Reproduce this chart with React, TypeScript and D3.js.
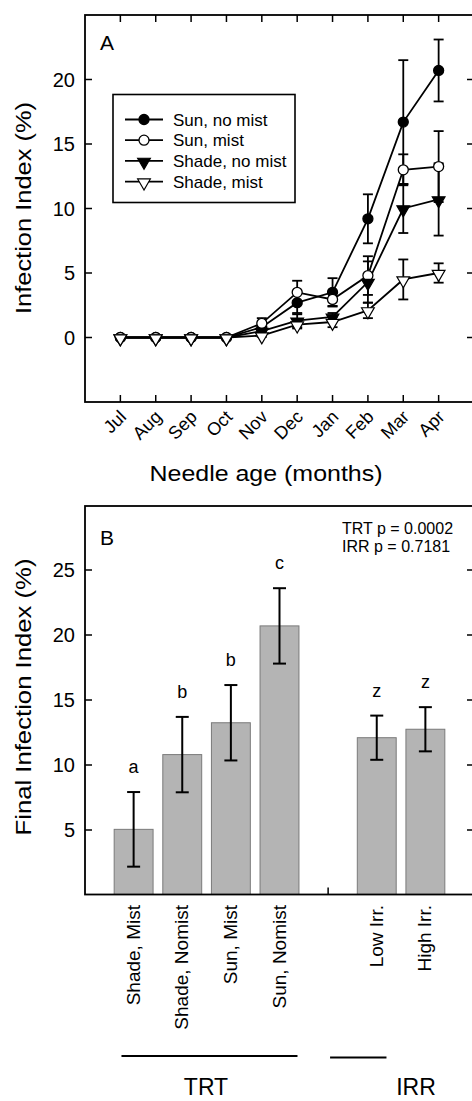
import React from 'react';
import * as d3 from 'd3';

// panel A: infection index by needle age
const months = ['Jul', 'Aug', 'Sep', 'Oct', 'Nov', 'Dec', 'Jan', 'Feb', 'Mar', 'Apr'];
const sunNoMist = [0, 0, 0, 0, 0.8, 2.7, 3.5, 9.2, 16.7, 20.7];
const sunNoMistErr = [0, 0, 0, 0, 0.3, 0.8, 1.1, 1.9, 4.8, 2.4];
const sunMist = [0, 0, 0, 0, 1.1, 3.5, 2.95, 4.8, 13.0, 13.25];
const sunMistErr = [0, 0, 0, 0, 0.4, 0.9, 0.5, 1.5, 1.2, 2.75];
const shadeNoMist = [0, 0, 0, 0, 0.5, 1.3, 1.6, 4.3, 10.0, 10.7];
const shadeNoMistErr = [0, 0, 0, 0, 0.2, 0.5, 0.3, 1.6, 1.9, 2.8];
const shadeMist = [0, 0, 0, 0, 0.15, 1.0, 1.2, 2.1, 4.5, 5.0];
const shadeMistErr = [0, 0, 0, 0, 0.1, 0.3, 0.4, 0.6, 1.55, 0.75];
const seriesNames = ['Sun, no mist', 'Sun, mist', 'Shade, no mist', 'Shade, mist'];
const yTicksA = [0, 5, 10, 15, 20];

// panel B: final infection index
const barLabels = ['Shade, Mist', 'Shade, Nomist', 'Sun, Mist', 'Sun, Nomist', '', 'Low Irr.', 'High Irr.'];
const barValues = [5.05, 10.8, 13.25, 20.7, null, 12.1, 12.75];
const barErrors = [2.87, 2.9, 2.9, 2.9, null, 1.7, 1.7];
const barLetters = ['a', 'b', 'b', 'c', '', 'z', 'z'];
const yTicksB = [5, 10, 15, 20, 25];
const statLines = ['TRT p = 0.0002', 'IRR p = 0.7181'];

const font = '"Liberation Sans", Arial, sans-serif';
const L = 85, R = 474;
const tickLen = 7;

function Marker({kind, x, y}: {kind: number, x: number, y: number}) {
    const filled = kind === 0 || kind === 2;
    if (kind < 2) {
        return <circle cx={x} cy={y} r={5} fill={filled ? '#000' : '#fff'} stroke="#000" strokeWidth={1.3} />;
    }
    const tri = d3.symbol(d3.symbolTriangle, 70)();
    return <path d={tri || ''} transform={`translate(${x},${y + 1}) rotate(180)`} fill={filled ? '#000' : '#fff'} stroke="#000" strokeWidth={1.2} />;
}

function PanelA() {
    const top = 15, bottom = 402;
    const x = d3.scaleLinear().domain([-1, 10]).range([L, R]);
    const y = d3.scaleLinear().domain([-5, 25]).range([bottom, top]);
    const series = [sunNoMist, sunMist, shadeNoMist, shadeMist];
    const errs = [sunNoMistErr, sunMistErr, shadeNoMistErr, shadeMistErr];
    const line = d3.line<number>().x((d, i) => x(i)).y(d => y(d));

    return (
        <g>
            {/* frame + ticks */}
            <rect x={L} y={top} width={R - L} height={bottom - top} fill="none" stroke="#000" strokeWidth={1.8} />
            {months.map((m, i) => (
                <g key={m}>
                    <line x1={x(i)} x2={x(i)} y1={bottom} y2={bottom - tickLen} stroke="#000" strokeWidth={1.5} />
                    <line x1={x(i)} x2={x(i)} y1={top} y2={top + tickLen} stroke="#000" strokeWidth={1.5} />
                    <text transform={`translate(${x(i) + 7},${bottom + 16}) rotate(-45)`} textAnchor="end"
                          fontSize={18} fontFamily={font}>{m}</text>
                </g>
            ))}
            {yTicksA.map(t => (
                <g key={t}>
                    <line x1={L} x2={L + tickLen} y1={y(t)} y2={y(t)} stroke="#000" strokeWidth={1.5} />
                    <line x1={R} x2={R - tickLen} y1={y(t)} y2={y(t)} stroke="#000" strokeWidth={1.5} />
                    <text x={L - 10} y={y(t) + 7} textAnchor="end" fontSize={20} fontFamily={font}>{t}</text>
                </g>
            ))}
            <text x={100} y={50} fontSize={21} fontFamily={font}>A</text>

            {/* error bars */}
            {series.map((s, k) => s.map((v, i) => errs[k][i] > 0 ? (
                <g key={`e${k}-${i}`} stroke="#000" strokeWidth={1.8}>
                    <line x1={x(i)} x2={x(i)} y1={y(v - errs[k][i])} y2={y(v + errs[k][i])} />
                    <line x1={x(i) - 5} x2={x(i) + 5} y1={y(v + errs[k][i])} y2={y(v + errs[k][i])} />
                    <line x1={x(i) - 5} x2={x(i) + 5} y1={y(v - errs[k][i])} y2={y(v - errs[k][i])} />
                </g>
            ) : null))}
            {series.map((s, k) => (
                <path key={`l${k}`} d={line(s) || ''} fill="none" stroke="#000" strokeWidth={1.8} />
            ))}
            {series.map((s, k) => s.map((v, i) => <Marker key={`m${k}-${i}`} kind={k} x={x(i)} y={y(v)} />))}

            {/* legend */}
            <rect x={113} y={94.5} width={182} height={108} fill="#fff" stroke="#000" strokeWidth={1.6} />
            {seriesNames.map((n, k) => {
                const ly = 119.5 + k * 20.7;
                return (
                    <g key={n}>
                        <line x1={125} x2={163} y1={ly} y2={ly} stroke="#000" strokeWidth={1.8} />
                        <Marker kind={k} x={144} y={ly} />
                        <text x={173} y={ly + 6} fontSize={17} fontFamily={font}>{n}</text>
                    </g>
                );
            })}

            <text x={266} y={481} textAnchor="middle" fontSize={22} fontFamily={font}
                  textLength={233} lengthAdjust="spacingAndGlyphs">Needle age (months)</text>
            <text transform={`translate(31,208) rotate(-90)`} textAnchor="middle" fontSize={22} fontFamily={font}
                  textLength={212} lengthAdjust="spacingAndGlyphs">Infection Index (%)</text>
        </g>
    );
}

function PanelB() {
    const top = 506, bottom = 894.5;
    const x = d3.scaleLinear().domain([-1, 7]).range([L, R]);
    const y = d3.scaleLinear().domain([0, 30]).range([895, 505]);
    const step = x(1) - x(0);
    const bw = step * 0.8;

    return (
        <g>
            {barValues.map((v, i) => v == null ? null : (
                <g key={i}>
                    <rect x={x(i) - bw / 2} y={y(v)} width={bw} height={bottom - y(v)} fill="#b4b4b4" stroke="#7a7a7a" strokeWidth={1} />
                    <g stroke="#000" strokeWidth={2}>
                        <line x1={x(i)} x2={x(i)} y1={y(v - (barErrors[i] as number))} y2={y(v + (barErrors[i] as number))} />
                        <line x1={x(i) - 6.5} x2={x(i) + 6.5} y1={y(v + (barErrors[i] as number))} y2={y(v + (barErrors[i] as number))} />
                        <line x1={x(i) - 6.5} x2={x(i) + 6.5} y1={y(v - (barErrors[i] as number))} y2={y(v - (barErrors[i] as number))} />
                    </g>
                    <text x={x(i)} y={y(v + (barErrors[i] as number)) - 19} textAnchor="middle" fontSize={18} fontFamily={font}>{barLetters[i]}</text>
                </g>
            ))}
            <rect x={L} y={top} width={R - L} height={bottom - top} fill="none" stroke="#000" strokeWidth={1.8} />
            <line x1={x(4)} x2={x(4)} y1={bottom} y2={bottom - tickLen} stroke="#000" strokeWidth={1.5} />
            {yTicksB.map(t => (
                <g key={t}>
                    <line x1={L} x2={L + tickLen} y1={y(t)} y2={y(t)} stroke="#000" strokeWidth={1.5} />
                    <line x1={R} x2={R - tickLen} y1={y(t)} y2={y(t)} stroke="#000" strokeWidth={1.5} />
                    <text x={L - 10} y={y(t) + 7} textAnchor="end" fontSize={20} fontFamily={font}>{t}</text>
                </g>
            ))}
            <text x={100} y={545} fontSize={21} fontFamily={font}>B</text>
            {statLines.map((s, k) => (
                <text key={s} x={342} y={534 + k * 17.5} fontSize={16} fontFamily={font}>{s}</text>
            ))}
            {barLabels.map((b, i) => b ? (
                <text key={b} transform={`translate(${x(i) + 6},905) rotate(-90)`} textAnchor="end" fontSize={19} fontFamily={font}>{b}</text>
            ) : null)}

            {/* group brackets */}
            <line x1={x(-0.25)} x2={x(3.37)} y1={1056} y2={1056} stroke="#000" strokeWidth={1.8} />
            <line x1={x(4.04)} x2={x(5.2)} y1={1057.5} y2={1057.5} stroke="#000" strokeWidth={2} />
            <text x={206} y={1095} textAnchor="middle" fontSize={23} fontFamily={font}>TRT</text>
            <text x={416} y={1095} textAnchor="middle" fontSize={23} fontFamily={font}>IRR</text>

            <text transform={`translate(31,697) rotate(-90)`} textAnchor="middle" fontSize={22} fontFamily={font}
                  textLength={277} lengthAdjust="spacingAndGlyphs">Final Infection Index (%)</text>
        </g>
    );
}

export default function App() {
    return (
        <svg width={472} height={1101} style={{position: 'absolute', left: 0, top: 0, background: '#fff'}}>
            <PanelA />
            <PanelB />
        </svg>
    );
}
